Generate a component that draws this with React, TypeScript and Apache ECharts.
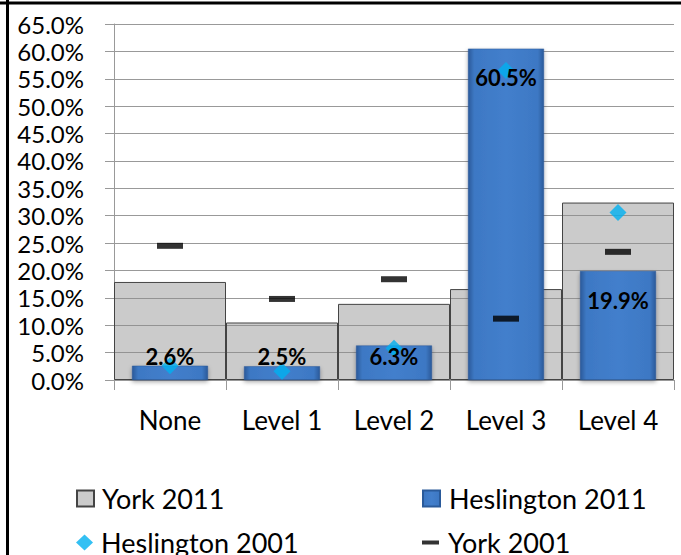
import React, { useEffect, useRef } from "react";
import * as echarts from "echarts";

const categories = ["None", "Level 1", "Level 2", "Level 3", "Level 4"];
const york2011 = [17.9, 10.5, 13.9, 16.6, 32.4];
const heslington2011 = [2.6, 2.5, 6.3, 60.5, 19.9];
const heslington2001 = [2.6, 1.6, 5.8, 56.5, 30.6];
const york2001 = [24.5, 14.8, 18.4, 11.2, 23.4];

const FONT = "Lato";

export default function App() {
  const ref = useRef<HTMLDivElement>(null);
  useEffect(() => {
    if (!ref.current) return;
    const chart = echarts.init(ref.current, null, { renderer: "svg" });
    const blue = {
      type: "linear",
      x: 0,
      y: 0,
      x2: 1,
      y2: 0,
      colorStops: [
        { offset: 0, color: "#2a5a9a" },
        { offset: 0.08, color: "#3d78c4" },
        { offset: 0.5, color: "#437fcc" },
        { offset: 0.92, color: "#3d78c4" },
        { offset: 1, color: "#2a5a9a" },
      ],
    };
    const labelData = heslington2011.map((v) => {
      if (v < 10) {
        return { value: v, label: { position: "insideBottom", distance: 13 } };
      }
      return { value: v, label: { position: "insideTop", distance: 18 } };
    });
    const mkLegend = (
      name: string,
      icon: string,
      left: number,
      top: number,
      gap: number
    ) => ({
      orient: "horizontal",
      left,
      top,
      itemWidth: 17,
      itemHeight: 16,
      textStyle: {
        fontFamily: FONT,
        fontSize: 27,
        lineHeight: 27,
        color: "#000",
        padding: [0, 0, 0, gap],
      },
      data: [{ name, icon }],
    });
    chart.setOption({
      animation: false,
      backgroundColor: "#ffffff",
      grid: { left: 114, right: 7, top: 24, bottom: 175, containLabel: false },
      xAxis: [
        {
          type: "category",
          data: categories,
          boundaryGap: true,
          axisLine: { show: true, lineStyle: { color: "#999", width: 1 } },
          axisTick: { show: true, length: 10, lineStyle: { color: "#999" } },
          axisLabel: {
            margin: 27,
            fontFamily: FONT,
            fontSize: 26,
            color: "#000",
          },
          splitLine: { show: false },
        },
        {
          type: "category",
          data: categories,
          show: false,
        },
      ],
      yAxis: {
        type: "value",
        min: 0,
        max: 65,
        interval: 5,
        axisLine: { show: true, lineStyle: { color: "#999", width: 1 } },
        axisTick: { show: true, length: 9, lineStyle: { color: "#999" } },
        axisLabel: {
          margin: 30,
          fontFamily: FONT,
          fontSize: 24,
          color: "#000",
          formatter: (v: number) => v.toFixed(1) + "%",
        },
        splitLine: { show: true, lineStyle: { color: "#999", width: 1 } },
      },
      legend: [
        mkLegend("York 2011", "rect", 71, 480, 3),
        mkLegend("Heslington 2001", "diamond", 71, 524, 3),
        mkLegend("Heslington 2011", "rect", 417, 480, 4),
        mkLegend(
          "York 2001",
          "path://M0,0 M17,16 M0,6 L17,6 L17,10 L0,10 Z",
          417,
          524,
          4
        ),
      ],
      series: [
        {
          name: "York 2011",
          type: "bar",
          xAxisIndex: 0,
          data: york2011,
          barWidth: "100%",
          barCategoryGap: 0,
          z: 1,
          itemStyle: {
            color: "rgba(140,140,140,0.45)",
            borderColor: "#444",
            borderWidth: 1,
          },
        },
        {
          name: "Heslington 2011",
          type: "bar",
          xAxisIndex: 1,
          data: heslington2011,
          barWidth: 76,
          z: 2,
          itemStyle: {
            color: blue,
            borderColor: "#2a5a9a",
            borderWidth: 0.5,
            shadowBlur: 4,
            shadowColor: "rgba(0,0,0,0.35)",
            shadowOffsetY: 2,
          },
        },
        {
          name: "Heslington 2001",
          type: "scatter",
          xAxisIndex: 0,
          data: heslington2001,
          symbol: "diamond",
          symbolSize: [17, 17],
          z: 3,
          itemStyle: { color: "#00b0f0" },
        },
        {
          name: "York 2001",
          type: "scatter",
          xAxisIndex: 0,
          data: york2001,
          symbol: "rect",
          symbolSize: [26, 6],
          z: 3,
          itemStyle: { color: "#000" },
        },
        {
          name: "labels",
          type: "bar",
          xAxisIndex: 1,
          data: labelData,
          barWidth: 76,
          barGap: "-100%",
          z: 5,
          itemStyle: { color: "rgba(0,0,0,0)" },
          silent: true,
          label: {
            show: true,
            fontFamily: FONT,
            fontWeight: "bold",
            fontSize: 22,
            color: "#000",
            formatter: (p: any) => Number(p.value).toFixed(1) + "%",
          },
        },
      ],
      graphic: [
        {
          type: "line",
          shape: { x1: 0, y1: 3, x2: 681, y2: 3 },
          style: { stroke: "#000", lineWidth: 3 },
          z: 10,
        },
        {
          type: "line",
          shape: { x1: 7.5, y1: 0, x2: 7.5, y2: 555 },
          style: { stroke: "#000", lineWidth: 3 },
          z: 10,
        },
      ],
    });
    return () => chart.dispose();
  }, []);
  return (
    <div
      ref={ref}
      style={{ position: "absolute", left: 0, top: 0, width: 681, height: 555 }}
    />
  );
}
